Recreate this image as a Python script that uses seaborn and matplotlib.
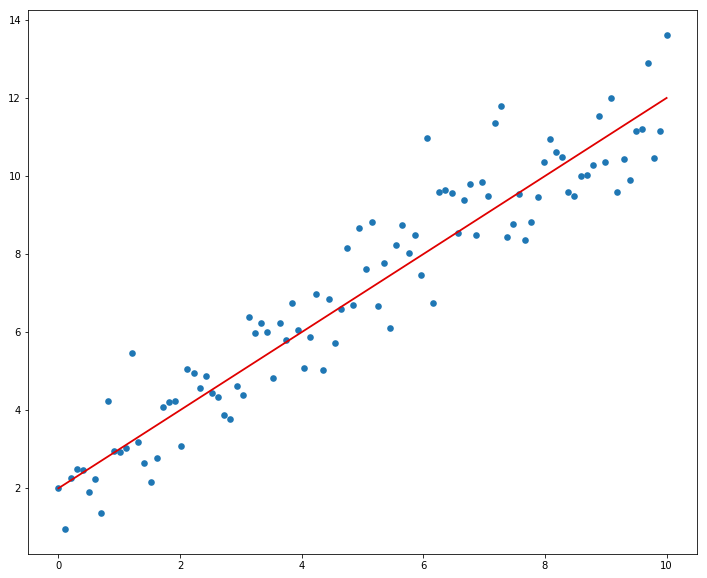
import numpy as np
import matplotlib
matplotlib.use('Agg')
import matplotlib.pyplot as plt
import seaborn as sns

# 100 points, x evenly spaced 0..10
x = np.linspace(0, 10, 100)
y = [2.00, 0.95, 2.26, 2.50, 2.46, 1.90, 2.23, 1.36, 4.23, 2.95,
     2.92, 3.03, 5.46, 3.18, 2.64, 2.15, 2.77, 4.08, 4.20, 4.23,
     3.08, 5.05, 4.95, 4.56, 4.87, 4.44, 4.33, 3.87, 3.77, 4.62,
     4.38, 6.38, 5.97, 6.23, 6.00, 4.82, 6.23, 5.80, 6.74, 6.05,
     5.08, 5.87, 6.97, 5.03, 6.85, 5.72, 6.59, 8.15, 6.69, 8.67,
     7.62, 8.82, 6.67, 7.77, 6.10, 8.23, 8.74, 8.03, 8.49, 7.46,
     10.97, 6.74, 9.59, 9.64, 9.56, 8.54, 9.38, 9.79, 8.49, 9.85,
     9.49, 11.36, 11.79, 8.44, 8.77, 9.54, 8.36, 8.82, 9.46, 10.36,
     10.95, 10.62, 10.49, 9.59, 9.49, 10.00, 10.03, 10.28, 11.54, 10.36,
     12.00, 9.59, 10.44, 9.90, 11.15, 11.21, 12.90, 10.46, 11.15, 13.62]

# fitted line parameters
intercept = 2.0
slope = 1.0
y_fit = intercept + slope * x

fig = plt.figure(figsize=(707 / 72, 578 / 72), dpi=72)
ax = fig.add_subplot(111)
fig.subplots_adjust(left=28 / 707, right=697 / 707, top=1 - 10 / 578, bottom=1 - 554 / 578)

sns.scatterplot(x=x, y=y, ax=ax, color='#1f77b4', s=44, linewidth=0)
sns.lineplot(x=x, y=y_fit, ax=ax, color='#e00000', linewidth=1.8)

ax.set_xticks([0, 2, 4, 6, 8, 10])
ax.set_yticks([2, 4, 6, 8, 10, 12, 14])
ax.tick_params(labelsize=10)

fig.savefig('out.png', dpi=72)
